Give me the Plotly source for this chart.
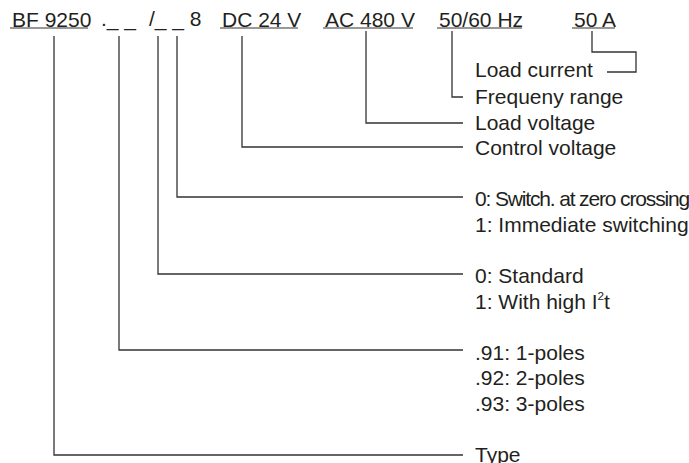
import plotly.graph_objects as go

# Header tokens of the ordering code
header_tokens = ["BF 9250", "._ _", "/_ _ 8", "DC 24 V", "AC 480 V", "50/60 Hz", "50 A"]
header_x = [10, 99, 147, 220, 323, 437, 572]
underline_start = [10, None, None, 220, 323, 437, 572]
underline_end = [88, None, None, 298, 413, 522, 615]

# Explanation labels
labels = ["Load current", "Frequeny range", "Load voltage", "Control voltage",
          "<span style='letter-spacing:-1.15px'>0: Switch. at zero crossing</span>",
          "1: Immediate switching", "0: Standard",
          "1: With high I<sup><span style='font-size:80%'>2</span></sup>t",
          ".91: 1-poles", ".92: 2-poles", ".93: 3-poles", "Type"]
label_y = [69, 96, 122, 147, 198, 224, 275, 301, 352, 377, 403, 454]
label_x = 473

# Connector polylines (x list, y list)
connectors_x = [
    [54, 54, 463],
    [119, 119, 463],
    [158, 158, 463],
    [177, 177, 463],
    [242, 242, 463],
    [366, 366, 463],
    [452, 452, 463],
    [592, 592, 636, 636, 607],
]
connectors_y = [
    [36, 455, 455],
    [36, 350, 350],
    [36, 274, 274],
    [36, 197, 197],
    [36, 147, 147],
    [31, 123, 123],
    [31, 97, 97],
    [31, 52, 52, 72, 72],
]

FONT = "Liberation Sans, Arial, Helvetica, sans-serif"
TXT = "#231f20"
LINE = "#333333"
FS = 21

fig = go.Figure()
for xs, ys in zip(connectors_x, connectors_y):
    fig.add_trace(go.Scatter(x=xs, y=ys, mode="lines",
                             line=dict(color=LINE, width=1.3),
                             hoverinfo="skip", showlegend=False))

# underlines
for xs0, xs1 in zip(underline_start, underline_end):
    if xs0 is None:
        continue
    fig.add_trace(go.Scatter(x=[xs0, xs1], y=[28, 28], mode="lines",
                             line=dict(color=LINE, width=1.2),
                             hoverinfo="skip", showlegend=False))

annotations = []
for t, x in zip(header_tokens, header_x):
    annotations.append(dict(x=x, y=19, text=t, showarrow=False, xanchor="left",
                            yanchor="middle", xref="x", yref="y",
                            font=dict(family=FONT, size=FS, color=TXT)))
for t, y in zip(labels, label_y):
    annotations.append(dict(x=label_x, y=y, text=t, showarrow=False, xanchor="left",
                            yanchor="middle", xref="x", yref="y",
                            font=dict(family=FONT, size=FS, color=TXT)))

fig.update_layout(
    width=689, height=463,
    margin=dict(l=0, r=0, t=0, b=0),
    paper_bgcolor="white", plot_bgcolor="white",
    xaxis=dict(range=[0, 689], visible=False, fixedrange=True),
    yaxis=dict(range=[463, 0], visible=False, fixedrange=True),
    annotations=annotations,
    showlegend=False,
)

fig.write_html("out.html",
               config={"displayModeBar": False, "staticPlot": True},
               post_script="document.body.style.margin='0';document.body.style.overflow='hidden';")
